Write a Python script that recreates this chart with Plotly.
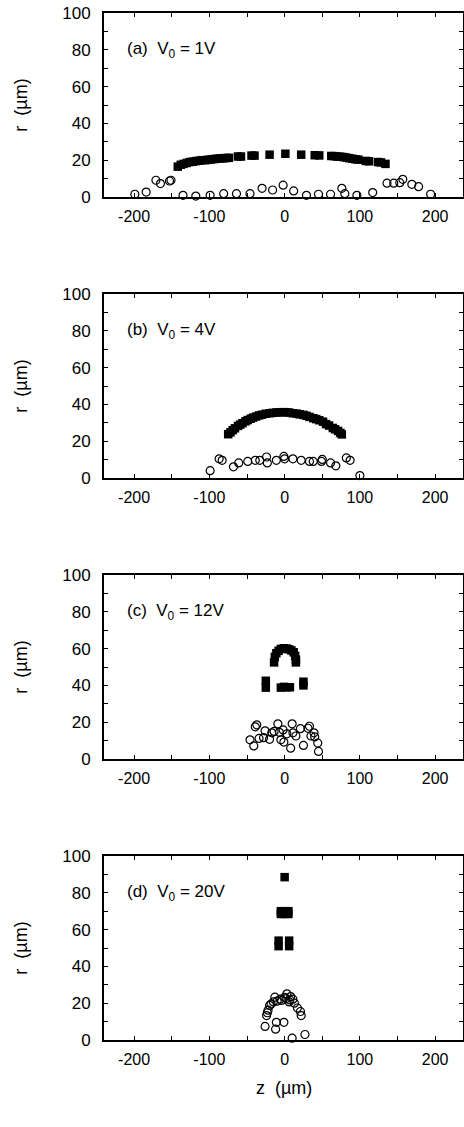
import plotly.graph_objects as go

# ---------------- data ----------------
# panel (a) V0 = 1V
a_sq_z = [-142, -138, -134, -130, -126, -122, -118, -114, -110, -106, -102, -98, -94, -90, -86, -82, -78, -74,
          -62, -58, -44, -40, -20, 1, 22, 40, 46, 62, 66, 70, 74, 78, 82, 86, 90, 94, 98, 108, 112, 124, 128, 134]
a_sq_r = [16.5, 17.5, 18.0, 18.5, 19.0, 19.2, 19.5, 19.7, 20.0, 20.0, 20.2, 20.4, 20.6, 20.8, 21.0, 21.0, 21.2, 21.3,
          22.0, 22.0, 22.5, 22.5, 23.0, 23.5, 23.0, 22.7, 22.6, 22.3, 22.2, 22.0, 21.9, 21.7, 21.4, 21.1, 20.8, 20.5, 20.3,
          19.6, 19.4, 19.0, 18.8, 18.0]
a_ci_z = [-199, -184, -171, -165, -153, -151, -135, -118, -99, -81, -64, -46, -30, -16, -2, 12, 29, 45, 61, 76, 80,
          96, 117, 136, 145, 153, 157, 169, 178, 194]
a_ci_r = [1.5, 2.7, 9.1, 7.3, 8.7, 9.1, 0.9, 0.5, 0.9, 1.8, 1.8, 1.8, 4.7, 3.8, 6.4, 3.3, 0.9, 1.5, 1.5, 4.7, 1.8,
          0.9, 2.4, 7.5, 7.5, 7.8, 9.6, 6.9, 5.6, 1.5]

# panel (b) V0 = 4V
b_sq_z = [-75, -72, -69, -66, -62, -59, -56, -52, -49, -45, -42, -38, -34, -30, -25, -20, -16, -11, -7, -2, 2, 6, 11,
          16, 20, 25, 29, 33, 38, 42, 46, 51, 55, 59, 64, 67, 71, 74, 76]
b_sq_r = [23.8, 24.8, 26.0, 27.0, 28.3, 29.0, 29.8, 30.8, 31.5, 32.2, 32.8, 33.4, 34.0, 34.4, 34.9, 35.2, 35.4, 35.6,
          35.7, 35.8, 35.7, 35.6, 35.2, 35.0, 34.6, 34.3, 33.8, 33.2, 32.5, 32.0, 31.4, 30.6, 29.3, 28.5, 27.2, 26.5,
          25.6, 24.5, 23.7]
b_ci_z = [-99, -87, -83, -68, -61, -49, -39, -33, -24, -23, -11, -1, 0, 11, 22, 33, 38, 49, 50, 61, 68, 82, 87, 100]
b_ci_r = [4.0, 10.4, 9.6, 6.1, 8.2, 9.0, 9.6, 9.6, 11.4, 8.2, 9.6, 11.7, 10.4, 10.4, 9.6, 9.0, 9.0, 9.0, 10.1, 8.2,
          6.6, 10.9, 9.6, 1.3]

# panel (c) V0 = 12V
c_sq_z = [-14, -13, -11, -8, -5, -1, 3, 6, 9, 12, 14, 15, 15, -25, -25, -5, -1, 3, 7, 25, 25]
c_sq_r = [52.5, 55.5, 57.5, 58.8, 59.8, 60.2, 60.0, 59.6, 59.0, 58.0, 56.0, 54.0, 52.5, 42.5, 38.8, 38.8, 39.2, 39.0,
          39.0, 42.0, 40.0]
c_ci_z = [-37, -39, -46, -41, -34, -28, -26, -20, -17, -14, -9, -7, -5, -1, -2, 3, 8, 10, 11, 15, 21, 25, 31, 33,
          35, 39, 40, 44, 45]
c_ci_r = [18.6, 17.5, 10.4, 7.1, 11.2, 11.6, 15.3, 10.7, 14.2, 15.0, 19.1, 14.5, 10.4, 9.2, 15.8, 13.7, 5.9, 19.1,
          14.2, 12.5, 16.5, 7.4, 16.7, 17.8, 12.5, 14.2, 12.0, 8.7, 4.1]

# panel (d) V0 = 20V
d_sq_z = [0, -5, 0, 5, -5, 0, 5, -8, -8, 6, 6]
d_sq_r = [88.5, 70.0, 70.0, 70.0, 68.5, 68.5, 68.5, 54.0, 51.0, 54.0, 51.0]
d_ci_z = [-26, -12, -11, -1, 10, 27, -24, -23, -22, -20, -15, -13, -10, -6, 0, 3, 6, 8, 11, 13, 17, 21, 22, -18,
          -4, 2, 7]
d_ci_r = [7.4, 5.9, 9.6, 9.6, 1.0, 3.0, 13.3, 14.8, 16.2, 18.8, 20.7, 23.3, 21.1, 22.2, 23.2, 25.1, 20.7, 23.6, 22.2,
          20.0, 17.4, 15.5, 13.3, 19.5, 21.5, 22.5, 21.8]

panel_labels = ["(a)  V<sub>0</sub> = 1V", "(b)  V<sub>0</sub> = 4V",
                "(c)  V<sub>0</sub> = 12V", "(d)  V<sub>0</sub> = 20V"]
x_ticks = [-200, -100, 0, 100, 200]
x_tick_text = ["-200", "-100", "0", "100", "200"]
y_ticks = [0, 20, 40, 60, 80, 100]
y_title = "r  (µm)"
x_title = "z  (µm)"

panels = [(a_sq_z, a_sq_r, a_ci_z, a_ci_r), (b_sq_z, b_sq_r, b_ci_z, b_ci_r),
          (c_sq_z, c_sq_r, c_ci_z, c_ci_r), (d_sq_z, d_sq_r, d_ci_z, d_ci_r)]

# ---------------- layout ----------------
W, H = 464, 1127
ML = 104
MT, MB = 13, 87
plot_h = H - MT - MB
panel_h = 184
pitch = 281
FONT = "Liberation Sans, Arial, Helvetica, sans-serif"

fig = go.Figure()
layout = dict(width=W, height=H, margin=dict(l=ML, r=1, t=MT, b=MB, autoexpand=False),
              paper_bgcolor="white", plot_bgcolor="white", showlegend=False,
              font=dict(family=FONT, size=16, color="black"))
annotations = []
for k, (sz, sr, cz, cr) in enumerate(panels):
    top_px = MT + pitch * k
    bot_px = top_px + panel_h
    d0 = (H - MB - bot_px) / plot_h
    d1 = (H - MB - top_px) / plot_h
    xa = "x" if k == 0 else f"x{k+1}"
    ya = "y" if k == 0 else f"y{k+1}"
    fig.add_trace(go.Scatter(x=cz, y=cr, mode="markers", xaxis=xa, yaxis=ya,
                             marker=dict(symbol="circle-open", size=8, color="black",
                                         line=dict(width=1.2, color="black")),
                             cliponaxis=False))
    fig.add_trace(go.Scatter(x=sz, y=sr, mode="markers", xaxis=xa, yaxis=ya,
                             marker=dict(symbol="square", size=8.5, color="black",
                                         line=dict(width=0)),
                             cliponaxis=False))
    axx = dict(domain=[0, 1], range=[-240, 237], anchor=ya, tickvals=x_ticks, ticktext=x_tick_text,
               ticks="inside", ticklen=4, tickwidth=1.2, tickcolor="black",
               minor=dict(dtick=50, tick0=0, ticks="inside", ticklen=4, tickwidth=1.2, tickcolor="black"),
               showline=True, linewidth=2, linecolor="black", mirror="ticks",
               showgrid=False, zeroline=False, tickfont=dict(size=16, family=FONT),
               ticklabelstandoff=4, automargin=False)
    axy = dict(domain=[d0, d1], range=[0, 100], anchor=xa, tickvals=y_ticks,
               ticks="inside", ticklen=4, tickwidth=1.2, tickcolor="black",
               minor=dict(dtick=10, tick0=0, ticks="inside", ticklen=4, tickwidth=1.2, tickcolor="black"),
               showline=True, linewidth=2, linecolor="black", mirror="ticks",
               showgrid=False, zeroline=False, tickfont=dict(size=17, family=FONT),
               ticklabelstandoff=8, automargin=False,
               title=dict(text=y_title, standoff=30, font=dict(size=18, family=FONT)))
    layout["xaxis" if k == 0 else f"xaxis{k+1}"] = axx
    layout["yaxis" if k == 0 else f"yaxis{k+1}"] = axy
    annotations.append(dict(text=panel_labels[k], x=-212, y=80, xref=xa, yref=ya,
                            xanchor="left", yanchor="middle", showarrow=False,
                            font=dict(size=17, family=FONT)))

annotations.append(dict(text=x_title, x=0.5, y=0, xref="paper", yref="paper",
                        xanchor="center", yanchor="middle", yshift=-48, showarrow=False,
                        font=dict(size=18, family=FONT)))
layout["annotations"] = annotations
fig.update_layout(**layout)
fig.write_html("out.html")
